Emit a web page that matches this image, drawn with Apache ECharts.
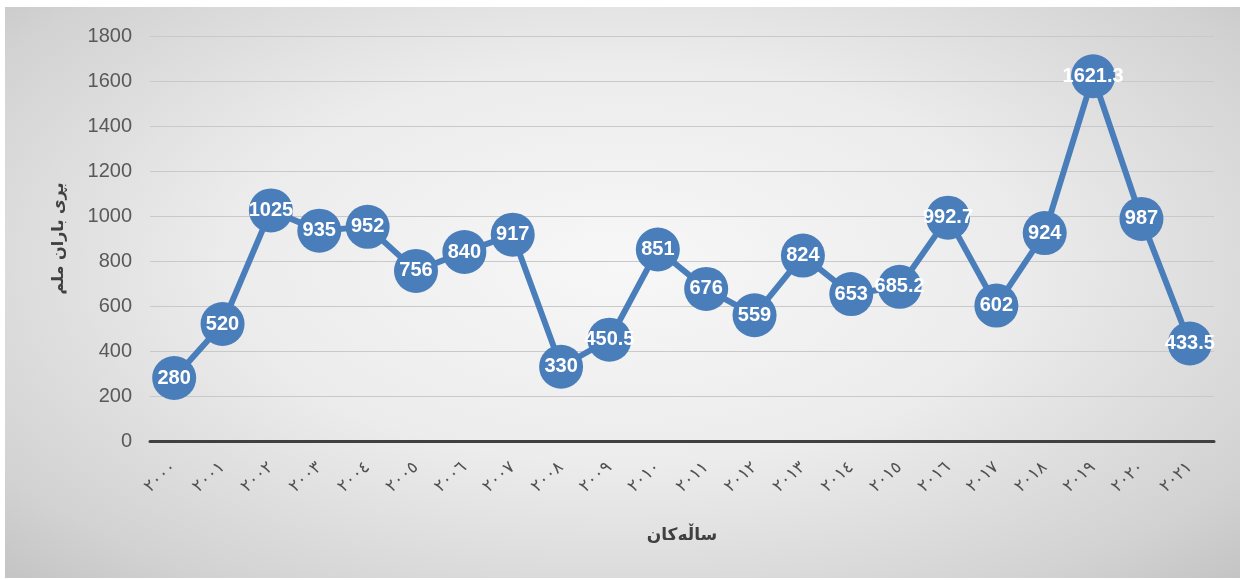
<!DOCTYPE html>
<html><head><meta charset="utf-8">
<script src="https://cdn.jsdelivr.net/npm/echarts@6/dist/echarts.min.js"></script>
<style>
html,body{margin:0;padding:0;background:#fff;width:1243px;height:580px;overflow:hidden}
#c{position:absolute;left:5px;top:7px;width:1235px;height:571px;
background:radial-gradient(ellipse at 50% 45%, #f7f7f7 0%, #ececec 45%, #d2d2d2 85%, #c4c4c4 100%);}
</style></head>
<body><div id="c"></div>
<script>
const categories = ['٢٠٠٠','٢٠٠١','٢٠٠٢','٢٠٠٣','٢٠٠٤','٢٠٠٥','٢٠٠٦','٢٠٠٧','٢٠٠٨','٢٠٠٩','٢٠١٠','٢٠١١','٢٠١٢','٢٠١٣','٢٠١٤','٢٠١٥','٢٠١٦','٢٠١٧','٢٠١٨','٢٠١٩','٢٠٢٠','٢٠٢١'];
const rainfall = [280,520,1025,935,952,756,840,917,330,450.5,851,676,559,824,653,685.2,992.7,602,924,1621.3,987,433.5];
const yTitle = 'بڕی باران ملم';
const xTitle = 'ساڵەکان';

const chart = echarts.init(document.getElementById('c'));
chart.setOption({
  backgroundColor: 'transparent',
  animation: false,
  grid: {left: 145, right: 26, top: 29, bottom: 137},
  xAxis: {
    type: 'category', data: categories, boundaryGap: true,
    name: xTitle, nameLocation: 'middle', nameGap: 86,
    nameTextStyle: {fontFamily: 'DejaVu Sans', fontWeight: 'bold', fontSize: 17, color: '#404040'},
    axisLine: {lineStyle: {color: '#404040', width: 3}},
    axisTick: {show: false},
    axisLabel: {rotate: 42, fontFamily: 'DejaVu Sans', fontSize: 17, color: '#505050', margin: 24}
  },
  yAxis: {
    type: 'value', min: 0, max: 1800, interval: 200,
    name: yTitle, nameLocation: 'middle', nameGap: 83, nameRotate: 90,
    nameTextStyle: {fontFamily: 'DejaVu Sans', fontWeight: 'bold', fontSize: 16, color: '#404040'},
    axisLine: {show: false}, axisTick: {show: false},
    axisLabel: {fontFamily: 'Liberation Sans', fontSize: 20, color: '#595959', margin: 18, formatter: v => String(v)},
    splitLine: {lineStyle: {color: '#c9c9c9', width: 1}}
  },
  series: [{
    type: 'line', data: rainfall,
    symbol: 'circle', symbolSize: 44,
    lineStyle: {color: '#4a7ebb', width: 6},
    itemStyle: {color: '#4a7ebb'},
    label: {show: true, position: 'inside', color: '#fff', fontFamily: 'Liberation Sans', fontWeight: 'bold', fontSize: 20, formatter: p => String(p.value)}
  }]
});
</script></body></html>
